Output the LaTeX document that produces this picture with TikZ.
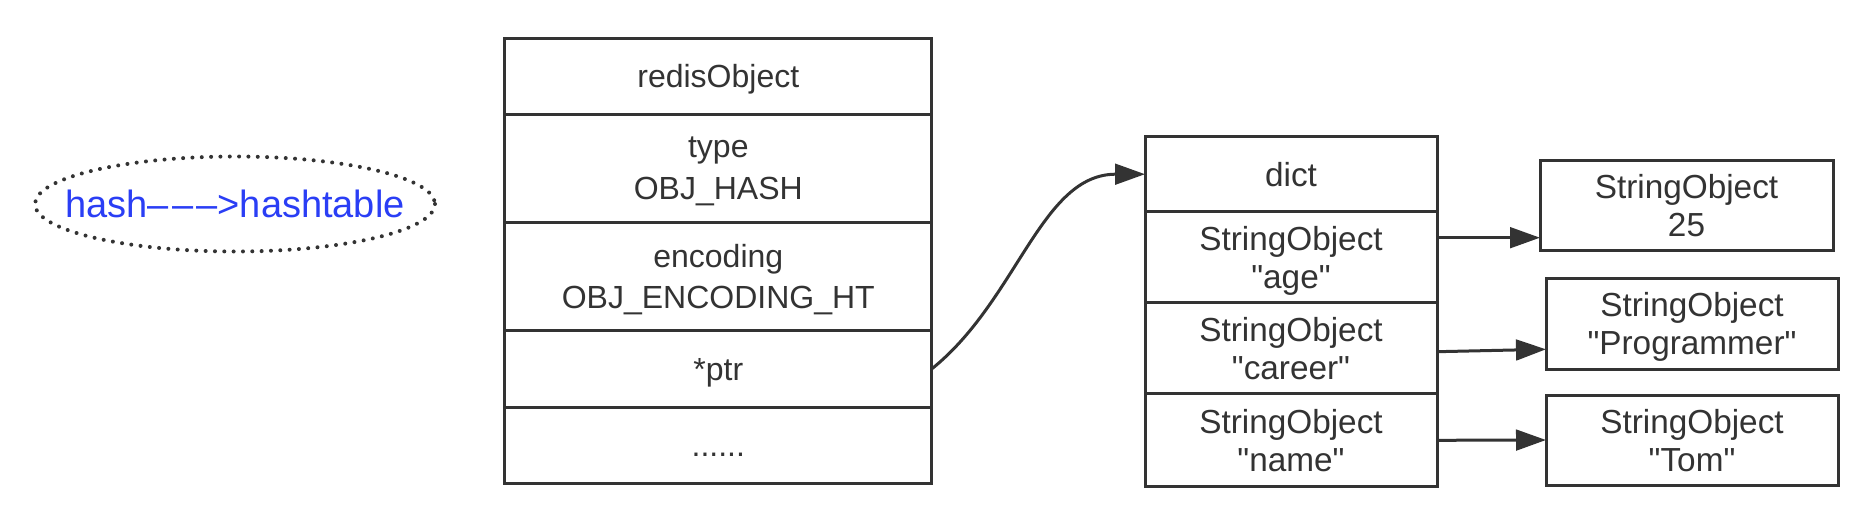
\documentclass[tikz,border=0pt]{standalone}
\usepackage{fontspec}
\newfontfamily\boxfont{Liberation Sans}
\usepackage{xcolor}
\usetikzlibrary{arrows.meta,calc}
\definecolor{inkgray}{RGB}{51,51,51}
\definecolor{hashblue}{RGB}{42,62,245}

\begin{document}
\begin{tikzpicture}[x=0.75pt,y=0.75pt,yscale=-1,xscale=1,
  cell/.style={draw=inkgray,line width=2.25pt,fill=white,outer sep=0pt,inner sep=0pt,align=center,text=inkgray,text depth=0pt,font=\boxfont\fontsize{24}{31}\selectfont,minimum width=320pt},
  dcell/.style={cell,font=\boxfont\fontsize{25}{28.5}\selectfont,minimum width=219pt},
  link/.style={draw=inkgray,line width=2.25pt,-{Triangle[length=22.5pt,width=15.5pt]}}]
\useasboundingbox (0,0) rectangle (1868,510);

% Text Node
\node[text=hashblue,font=\boxfont\fontsize{28.5}{34}\selectfont] (hash) at (235,204) {hash–\kern2.5pt–\kern2.5pt–>hashtable};
%Shape: Ellipse
\draw[inkgray,line width=3pt,line cap=round,dash pattern=on 0pt off 7pt] (hash.center) ellipse [x radius=200,y radius=47.5];

%Shape: Rectangle
\node[cell,minimum height=57pt] (robj) at (718.3,76.3) {redisObject};
\node[cell,minimum height=81pt] (rtype) at (718.3,168.3) {type\\OBJ\_HASH};
\node[cell,minimum height=81.3pt] (renc) at (718.3,276.5) {encoding\\OBJ\_ENCODING\_HT};
\node[cell,minimum height=57.45pt] (rptr) at (718.3,369) {*ptr};
\node[cell,minimum height=57pt] (rmore) at (718.3,445.3) {\vphantom{A}......};

%Shape: Rectangle
\node[dcell,minimum height=56.25pt] (dict) at (1291,174.2) {dict};
\node[dcell,minimum height=68.25pt] (kage) at (1291,257.2) {StringObject\\"age"};
\node[dcell,minimum height=68.5pt] (kcareer) at (1291,348.3) {StringObject\\"career"};
\node[dcell,minimum height=69.5pt] (kname) at (1291,440.3) {StringObject\\"name"};

%Shape: Rectangle
\node[dcell,minimum width=219.75pt,minimum height=67.5pt] (vage) at (1686.5,205) {StringObject\\25};
\node[dcell,minimum height=68.25pt] (vcareer) at (1692,323.8) {StringObject\\"Programmer"};
\node[dcell,minimum height=67.5pt] (vname) at (1692,440) {StringObject\\"Tom"};

%Curve Lines
\draw[link] (rptr.east) .. controls +(86,-69) and +(-104,0) .. (dict.west);
%Straight Lines
\draw[link] ($(kage.east)+(0,-19.5)$) -- ($(vage.west)+(0,32.7)$);
\draw[link] ($(kcareer.east)+(0,3.4)$) -- ($(vcareer.west)+(0,25.5)$);
\draw[link] (kname.east) -- (vname.west);
\end{tikzpicture}
\end{document}
